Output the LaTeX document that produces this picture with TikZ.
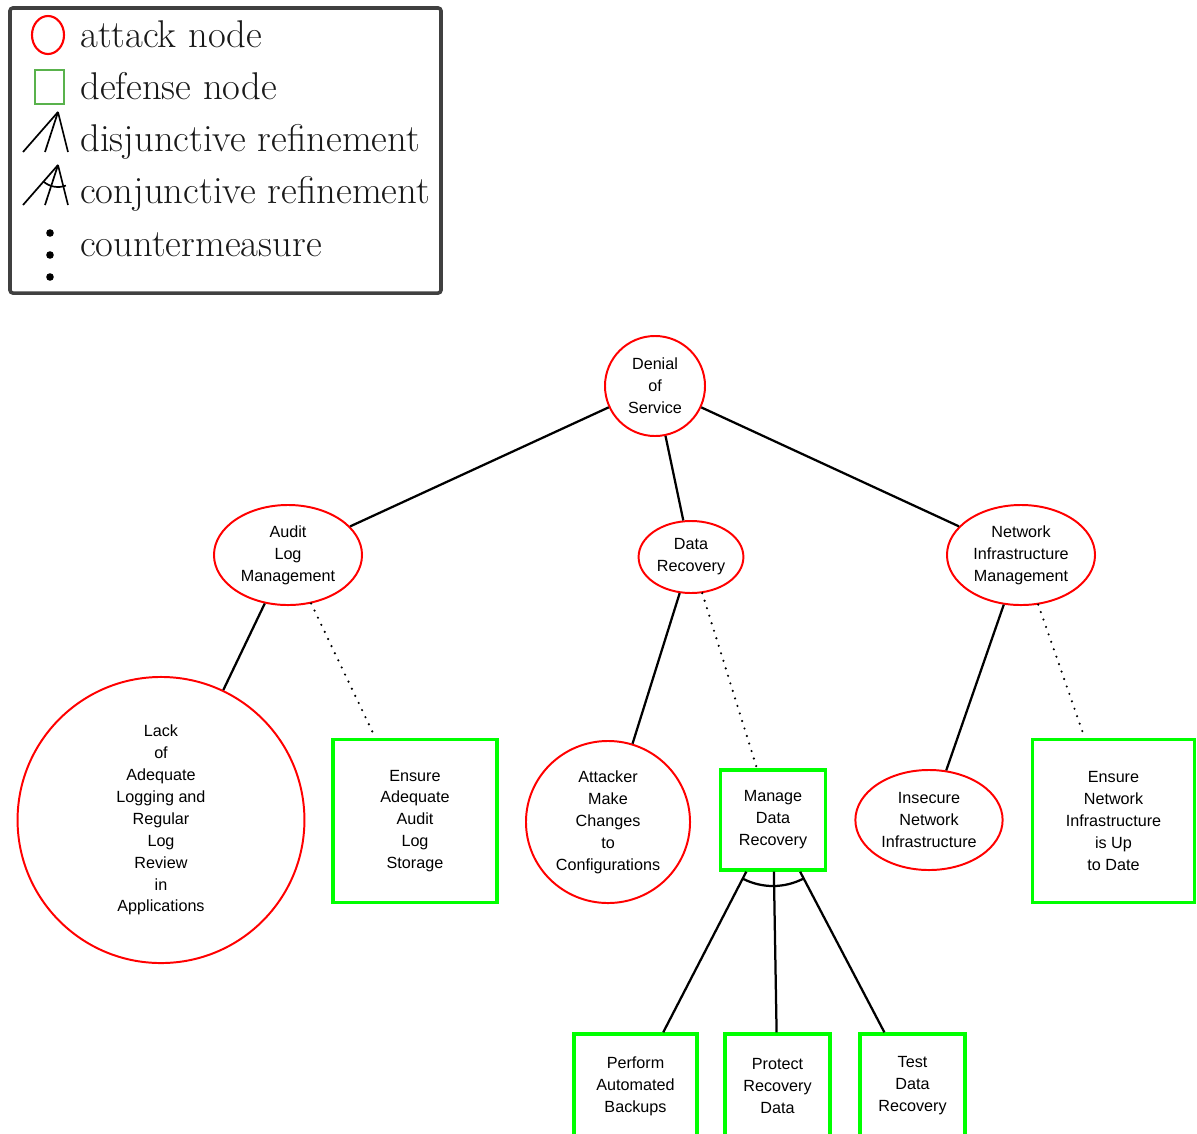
\documentclass[tikz,border=0pt]{standalone}
\usepackage{fontspec}
\newfontfamily\helv{Liberation Sans}
\usetikzlibrary{shapes.geometric}
\definecolor{legendgreen}{rgb}{0.35,0.7,0.3}
\tikzset{
	attack/.style={ellipse, draw=red, line width=1.4pt, inner sep=0pt, align=center, font=\helv\fontsize{11.5}{15.6}\selectfont},
	defense/.style={rectangle, draw=green, line width=2.4pt, inner sep=0pt, align=center, font=\helv\fontsize{11.5}{15.6}\selectfont},
	refline/.style={line width=1.6pt},
	cmeasure/.style={line width=1.7pt, line cap=round, dash pattern=on 0pt off 5.6pt},
	legtext/.style={anchor=base west, inner sep=0pt, text=black!90, font=\fontsize{27.5}{30}\selectfont},
}
\begin{document}
\begin{tikzpicture}[x=0.025cm, y=0.025cm]
		\useasboundingbox (0,0) rectangle (1197,-1133);
		\draw[black!75, line width=2.5pt, rounded corners=2pt] (10,-8) rectangle (441,-293);
		\draw[red, line width=1.5pt] (48,-35) ellipse (16 and 19);
		\draw[legendgreen, line width=1.5pt] (35,-70) rectangle (64,-104);
		\draw[line width=1.2pt] (58,-112) coordinate(dapex) -- (23,-152);
		\draw[line width=1.2pt] (dapex) -- (45,-152);
		\draw[line width=1.2pt] (dapex) -- (68,-152);
		\draw[line width=1.2pt] (58,-165) coordinate(capex) -- (23,-205);
		\draw[line width=1.2pt] (capex) -- (45,-205);
		\draw[line width=1.2pt] (capex) -- (68,-205);
		\draw[line width=1.2pt] (capex) ++(229:22) arc(229:291:22);
		\fill (50,-233) circle(3.8);
		\fill (50,-255) circle(3.8);
		\fill (50,-277) circle(3.8);
		\node[legtext] (lgatk) at (80,-47) {attack node};
		\node[legtext] (lgdef) at (80,-99) {defense node};
		\node[legtext] (lgdis) at (80,-151) {disjunctive refinement};
		\node[legtext] (lgcon) at (80,-203) {conjunctive refinement};
		\node[legtext] (lgcm) at (80,-256) {countermeasure};
		
		\node[attack, minimum width=2.5cm, minimum height=2.5cm] (dos) at (655,-386) {Denial\\of\\Service};
		\node[attack, minimum width=3.7cm, minimum height=2.5cm] (alm) at (288,-555) {Audit\\Log\\Management};
		\node[attack, minimum width=2.62cm, minimum height=1.8cm] (dr) at (691,-557) {Data\\Recovery};
		\node[attack, minimum width=3.7cm, minimum height=2.5cm] (nim) at (1021,-555) {Network\\Infrastructure\\Management};
		\node[attack, minimum width=7.17cm, minimum height=7.15cm] (lack) at (161,-820) {Lack\\of\\Adequate\\Logging and\\Regular\\Log\\Review\\in\\Applications};
		\node[defense, minimum width=4.1cm, minimum height=4.08cm] (eaals) at (415,-821) {Ensure\\Adequate\\Audit\\Log\\Storage};
		\node[attack, minimum width=4.1cm, minimum height=4.05cm] (amc) at (608,-822) {Attacker\\Make\\Changes\\to\\Configurations};
		\node[defense, minimum width=2.62cm, minimum height=2.5cm] (mdr) at (773,-820) {Manage\\Data\\Recovery};
		\node[attack, minimum width=3.68cm, minimum height=2.5cm] (ini) at (929,-820) {Insecure\\Network\\Infrastructure};
		\node[defense, minimum width=4.06cm, minimum height=4.08cm] (enis) at (1113.5,-821) {Ensure\\Network\\Infrastructure\\is Up\\to Date};
		\node[defense, minimum width=3.08cm, minimum height=2.6cm] (pab) at (635.5,-1086) {Perform\\Automated\\Backups};
		\node[defense, minimum width=2.62cm, minimum height=2.6cm] (prd) at (777.5,-1086) {Protect\\Recovery\\Data};
		\node[defense, minimum width=2.62cm, minimum height=2.6cm] (tdr) at (912.5,-1086) {Test\\Data\\Recovery};
		
		\draw[refline] (dos) -- (alm);
		\draw[refline] (dos) -- (dr);
		\draw[refline] (dos) -- (nim);
		\draw[refline] (alm) -- (lack);
		\draw[cmeasure] (alm) -- (eaals);
		\draw[refline] (dr) -- (amc);
		\draw[cmeasure] (dr) -- (mdr);
		\draw[refline] (nim) -- (ini);
		\draw[cmeasure] (nim) -- (enis);
		\draw[refline] (mdr) -- (pab);
		\draw[refline] (mdr) -- (prd);
		\draw[refline] (mdr) -- (tdr);
		\draw[refline] (mdr.center) ++(242.7:66) arc(242.7:297.7:66);
	\end{tikzpicture}
\end{document}
